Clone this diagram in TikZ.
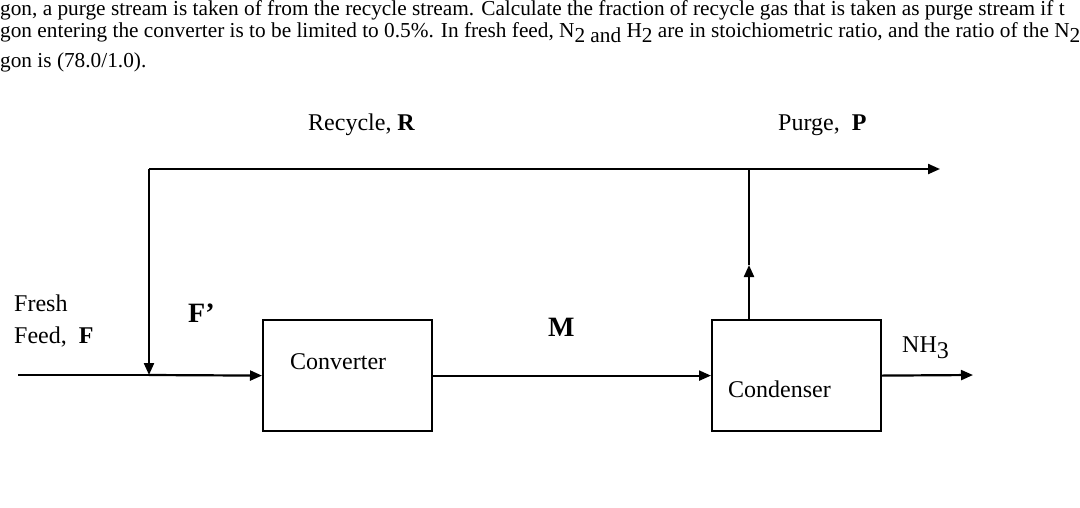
\documentclass[tikz,border=0pt]{standalone}
\usepackage{fontspec}
\setmainfont{Liberation Serif}
\usetikzlibrary{arrows.meta}
\begin{document}
\begin{tikzpicture}[x=1pt,y=-1pt,
  pline/.style={line width=2.2pt},
  flow/.style={line width=2.2pt,-{Triangle[length=12pt,width=10pt]}},
  unit/.style={draw,line width=2.2pt,minimum width=169pt,minimum height=111pt,inner sep=0pt,anchor=north west},
  txt/.style={inner sep=0pt,anchor=base west,font=\fontsize{24}{28}\selectfont},
  big/.style={inner sep=0pt,anchor=base west,font=\fontsize{28}{32}\selectfont\bfseries},
  para/.style={inner sep=0pt,anchor=base west,font=\fontsize{21.3}{24}\selectfont}
]
\useasboundingbox (0,0) rectangle (1080,507);
\clip (0,0) rectangle (1080,507);
\fill[white] (0,0) rectangle (1080,507);

% problem text
\node[para] (t1) at (0,15) {gon, a purge stream is taken of from the recycle stream. Calculate the fraction of recycle gas that is taken as purge stream if t};
\node[para] (t2) at (0,37) {gon entering the converter is to be limited to 0.5\%. In fresh feed, N\raisebox{-5pt}{2 and} H\raisebox{-5pt}{2} are in stoichiometric ratio, and the ratio of the N\raisebox{-5pt}{2}};
\node[para] (t3) at (0,67) {gon is (78.0/1.0).};

% units
\node[unit] (conv) at (262,319) {};
\node[unit] (cond) at (711,319) {};

% coordinates
\coordinate (fin) at (18,375);
\coordinate (mix) at (149,375);
\coordinate (rtop) at (149,169);
\coordinate (ptop) at (749,169);
\coordinate (pout) at (940,169);
\coordinate (parr) at (749,265);
\coordinate (nout) at (973,375);

% streams
\draw[pline] (fin) -- (mix);
\draw[flow] (mix) -- (conv.west);
\draw[flow] (conv.east) -- (cond.west);
\draw[flow] (cond.east) -- (nout);
\draw[flow] (cond.north west -| parr) -- (parr);
\draw[pline] (parr) -- (ptop);
\draw[flow] (rtop) -- (pout);
\draw[flow] (rtop) -- (mix);

% labels
\node[txt] (lrec) at (308,130) {Recycle, \textbf{R}};
\node[txt] (lpur) at (778,130) {Purge, \ \textbf{P}};
\node[txt] (lfr) at (14,311) {Fresh};
\node[txt] (lfe) at (14,343) {Feed, \ \textbf{F}};
\node[big] (lfp) at (188,322) {F’};
\node[big] (lm) at (548,336) {M};
\node[txt] (lconv) at (290,369) {Converter};
\node[txt] (lcond) at (728,397) {Condenser};
\node[txt] (lnh) at (902,352) {NH\raisebox{-6pt}{3}};
\end{tikzpicture}
\end{document}
